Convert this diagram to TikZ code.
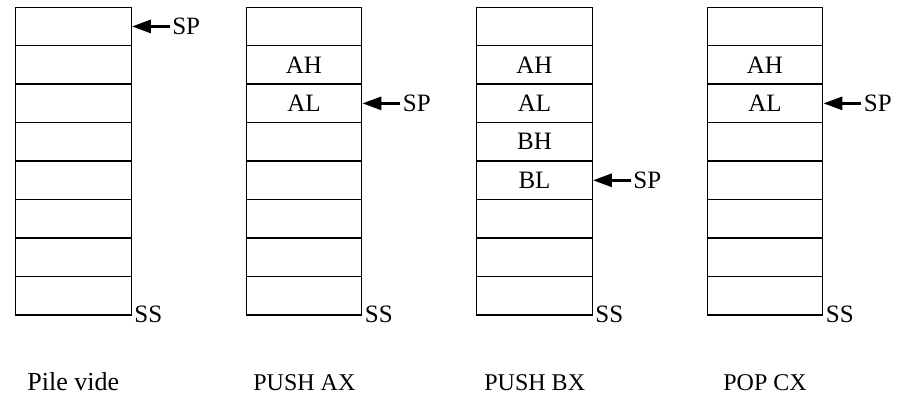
\documentclass[tikz,border=0pt]{standalone}
\usepackage{fontspec}
\setmainfont{Liberation Serif}
\usetikzlibrary{arrows.meta}
\tikzset{
  cell/.style={draw, line width=0.7pt, minimum width=57.75pt, minimum height=19.23pt, inner sep=0pt},
  ptr/.style={-{Triangle[length=9.5pt,width=6.5pt]}, line width=1.5pt},
  tag/.style={anchor=west, inner sep=1pt},
  caption/.style={anchor=base west, inner sep=0pt, font=\fontsize{12}{14}\selectfont}
}
\begin{document}
\begin{tikzpicture}[x=0.5pt, y=0.5pt, font=\fontsize{12.5}{15}\selectfont]
    \useasboundingbox (0,0) rectangle (902,395);

    \foreach \s/\x in {a/73.5, b/304, c/534.5, d/765} {
      \foreach \i in {1,...,8}
        \node[cell] (\s\i) at (\x, 407 - \i*38.46) {};
      \node[tag] (\s-ss) at ([yshift=0.6pt]\s8.south east) {SS};
    }

    \node[tag] (a-sp) at ([xshift=19pt]a1.east) {SP};
    \draw[ptr] (a-sp) -- (a1.east);

    \node (b-ah) at (b2) {AH};
    \node (b-al) at (b3) {AL};
    \node[tag] (b-sp) at ([xshift=19pt]b3.east) {SP};
    \draw[ptr] (b-sp) -- (b3.east);

    \node (c-ah) at (c2) {AH};
    \node (c-al) at (c3) {AL};
    \node (c-bh) at (c4) {BH};
    \node (c-bl) at (c5) {BL};
    \node[tag] (c-sp) at ([xshift=19pt]c5.east) {SP};
    \draw[ptr] (c-sp) -- (c5.east);

    \node (d-ah) at (d2) {AH};
    \node (d-al) at (d3) {AL};
    \node[tag] (d-sp) at ([xshift=19pt]d3.east) {SP};
    \draw[ptr] (d-sp) -- (d3.east);

    \node[caption, font=\fontsize{13}{15}\selectfont] (a-cap) at (27, 4) {Pile vide};
    \node[caption] (b-cap) at (253, 4) {PUSH AX};
    \node[caption] (c-cap) at (484, 4) {PUSH BX};
    \node[caption] (d-cap) at (723, 4) {POP CX};
  \end{tikzpicture}
\end{document}
